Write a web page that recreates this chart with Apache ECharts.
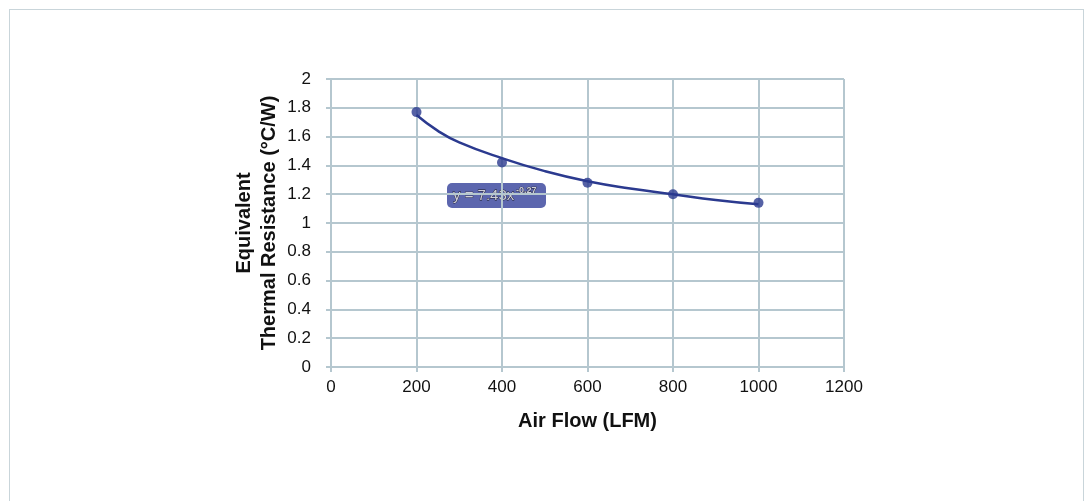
<!DOCTYPE html>
<html>
<head>
<meta charset="utf-8">
<script src="https://cdn.jsdelivr.net/npm/echarts@6/dist/echarts.min.js"></script>
<style>
  html, body { margin: 0; padding: 0; background: #fff; }
  #frame { position: absolute; left: 9px; top: 9px; width: 1073px; height: 500px;
           border: 1.5px solid #c9d5da; border-bottom: none; }
  #chart { position: absolute; left: 0; top: 0; width: 1086px; height: 501px; }
</style>
</head>
<body>
<div id="frame"></div>
<div id="chart"></div>
<script>
// measured points
var airFlow = [200, 400, 600, 800, 1000];
var resistance = [1.77, 1.42, 1.28, 1.20, 1.14];

// power trendline
var trendX = [200, 250, 300, 400, 500, 600, 700, 800, 900, 1000];
var trendY = [1.75, 1.64, 1.56, 1.45, 1.36, 1.29, 1.24, 1.20, 1.16, 1.13];

var xTicks = [0, 200, 400, 600, 800, 1000, 1200];
var yTicks = [0, 0.2, 0.4, 0.6, 0.8, 1, 1.2, 1.4, 1.6, 1.8, 2];

var fitLabel = "y = 7.43x";
var fitExp = "-0.27";

var gridColor = "#b5c7cf";
var lineColor = "#2b3a8f";
var fontFam = "Liberation Sans, Arial, sans-serif";

var chart = echarts.init(document.getElementById("chart"));

chart.setOption({
  animation: false,
  textStyle: { fontFamily: fontFam },
  grid: { left: 331, top: 79, width: 513, height: 288 },
  xAxis: {
    type: "value",
    min: xTicks[0],
    max: xTicks[xTicks.length - 1],
    interval: 200,
    name: "Air Flow (LFM)",
    nameLocation: "middle",
    nameGap: 44,
    nameTextStyle: { fontSize: 20, fontWeight: "bold", color: "#111", fontFamily: fontFam },
    axisLine: { lineStyle: { color: gridColor, width: 2 } },
    axisTick: { show: true, length: 5, lineStyle: { color: gridColor, width: 2 } },
    axisLabel: {
      fontSize: 17, color: "#111", margin: 12, fontFamily: fontFam,
      formatter: function (v) { return String(v); }
    },
    splitLine: { show: true, lineStyle: { color: gridColor, width: 2 } }
  },
  yAxis: {
    type: "value",
    min: yTicks[0],
    max: yTicks[yTicks.length - 1],
    interval: 0.2,
    name: "Equivalent\nThermal Resistance (°C/W)",
    nameLocation: "middle",
    nameGap: 49,
    nameRotate: 90,
    nameTextStyle: { fontSize: 20, fontWeight: "bold", color: "#111", lineHeight: 25, fontFamily: fontFam },
    axisLine: { show: true, lineStyle: { color: gridColor, width: 2 } },
    axisTick: { show: true, length: 5, lineStyle: { color: gridColor, width: 2 } },
    axisLabel: {
      fontSize: 17, color: "#111", margin: 20, fontFamily: fontFam,
      formatter: function (v) { return String(Math.round(v * 10) / 10); }
    },
    splitLine: { show: true, lineStyle: { color: gridColor, width: 2 } }
  },
  series: [
    {
      name: "trend",
      type: "line",
      smooth: true,
      showSymbol: false,
      data: trendX.map(function (x, i) { return [x, trendY[i]]; }),
      lineStyle: { color: lineColor, width: 2.5 },
      z: 3
    },
    {
      name: "measured",
      type: "scatter",
      symbol: "circle",
      symbolSize: 10,
      data: airFlow.map(function (x, i) { return [x, resistance[i]]; }),
      itemStyle: { color: lineColor },
      z: 4
    }
  ],
  graphic: [
    {
      type: "group",
      left: 447,
      top: 183,
      children: [
        {
          type: "rect",
          shape: { x: 0, y: 0, width: 99, height: 25, r: 5 },
          style: { fill: "#5c66ae" }
        },
        {
          type: "text",
          x: 6,
          y: 13,
          style: {
            text: fitLabel,
            fontSize: 15,
            fontFamily: fontFam,
            fill: "#cfcfda",
            stroke: "#1a1a22",
            lineWidth: 0.8,
            verticalAlign: "middle"
          }
        },
        {
          type: "text",
          x: 69,
          y: 8,
          style: {
            text: fitExp,
            fontSize: 9,
            fontWeight: "bold",
            fontFamily: fontFam,
            fill: "#cfcfda",
            stroke: "#1a1a22",
            lineWidth: 0.7,
            verticalAlign: "middle"
          }
        }
      ]
    }
  ]
});
</script>
</body>
</html>
